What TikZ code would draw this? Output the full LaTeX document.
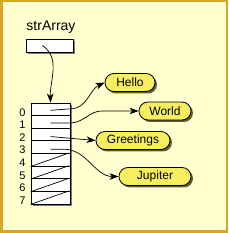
\documentclass[tikz,border=0pt]{standalone}
\usepackage{fontspec}
\setmainfont{Liberation Sans}
\usetikzlibrary{shapes.misc,shadows,arrows.meta}
\definecolor{pagebg}{RGB}{255,255,208}
\definecolor{framegold}{RGB}{214,166,40}
\definecolor{ovalfill}{RGB}{246,238,96}
\definecolor{ovalshade}{RGB}{96,92,56}
\definecolor{boxshade}{RGB}{120,120,120}

\begin{document}
\begin{tikzpicture}[x=1pt,y=1pt,
    cell/.style={draw, line width=0.8pt, fill=white, minimum width=39pt,
      minimum height=12.625pt, inner sep=0pt},
    idx/.style={font=\fontsize{11}{12}\selectfont, inner sep=0pt, anchor=east},
    strval/.style={rounded rectangle, draw, line width=0.8pt, fill=ovalfill,
      minimum height=18pt, inner sep=0pt, font=\fontsize{12}{14}\selectfont,
      drop shadow={shadow xshift=2pt, shadow yshift=-2pt, fill=ovalshade, opacity=1}},
    ptr/.style={line width=0.7pt, -{Stealth[length=9pt,width=6.5pt,inset=2.5pt]}}]
  % Frame and background
  \fill[framegold] (0,0) rectangle (228,233);
  \fill[pagebg] (2.5,2.5) rectangle (225.5,230.5);
  \useasboundingbox (0,0) rectangle (228,233);
  % Variable box
  \node[font=\fontsize{14}{16}\selectfont] (name) at (51,205.5) {strArray};
  \fill[boxshade] (28,178.5) rectangle (75,191.5);
  \node[cell, minimum width=47pt, minimum height=13pt] (sa) at (49.5,187.5) {};
  % Array of eight slots, with a shadow behind
  \fill[boxshade] (33,27) rectangle (72,128);
  \foreach \i in {0,...,7}
  {
    \node[cell] (c\i) at (50.5,123.69-\i*12.625) {};
    \node[idx] (l\i) at ([xshift=-5pt,yshift=-3pt]c\i.west) {\i};
  }
  % Empty slots
  \foreach \i in {4,...,7}
    \draw[line width=0.7pt] (c\i.south west) -- ([xshift=-1.5pt]c\i.north east);
  % String values
  \node[strval, minimum width=50pt] (hello) at (130,150.5) {Hello};
  \node[strval, minimum width=52pt] (world) at (165,122) {World};
  \node[strval, minimum width=74pt] (greet) at (133,92.5) {Greetings};
  \node[strval, minimum width=72pt] (jup) at (155,56.5) {Jupiter};
  % Pointers
  \draw[ptr] ([xshift=-7pt]sa.center) to[out=-35,in=92] (c0.north);
  \draw[ptr] ([yshift=-1pt]c0.center) -- ([yshift=0.5pt]c0.east)
    to[out=0,in=205] (hello.west);
  \draw[ptr] ([yshift=-1pt]c1.center) -- ([yshift=-1pt]c1.east)
    to[out=0,in=180] ++(32,12) -- (world.west);
  \draw[ptr] ([yshift=-2pt]c2.center) -- (greet.west);
  \draw[ptr] ([yshift=-2pt]c3.center) -- ([xshift=-7pt,yshift=-2pt]c3.east)
    to[out=0,in=180] (jup.west);
\end{tikzpicture}
\end{document}
